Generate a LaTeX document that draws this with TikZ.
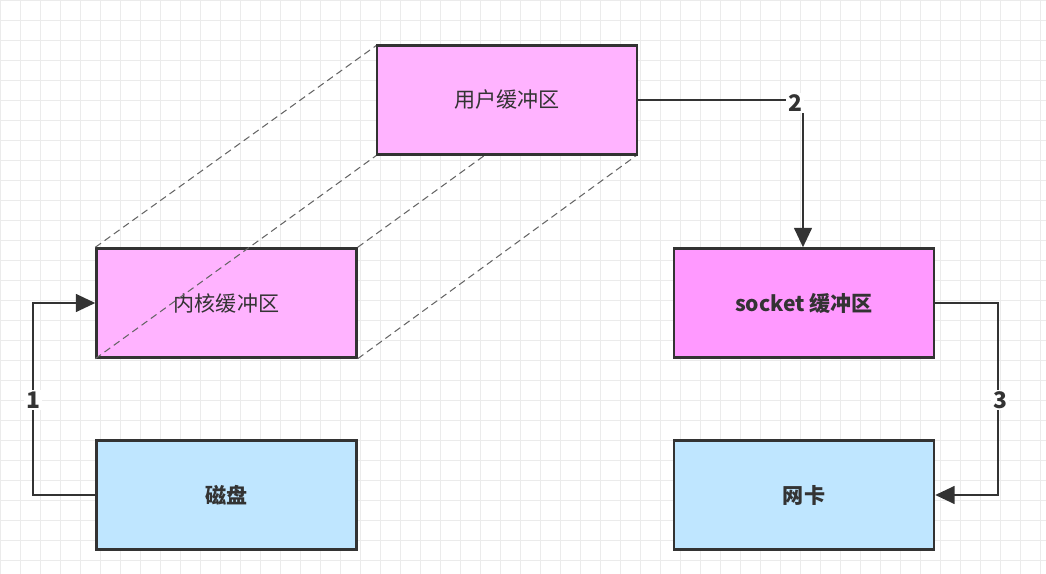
\documentclass[tikz,border=0pt]{standalone}
\usepackage{fontspec}
\setmainfont{Noto Sans CJK SC}
\usetikzlibrary{arrows.meta}
\definecolor{pinkbox}{HTML}{FFB3FF}
\definecolor{pinkdark}{HTML}{FF99FF}
\definecolor{bluebox}{HTML}{BFE6FF}
\definecolor{edge}{HTML}{333333}
\tikzset{
  buf/.style={draw=edge, line width=1.4pt, minimum width=5.2cm, minimum height=2.18cm,
    font=\fontsize{12}{14}\selectfont, text=edge},
  link/.style={draw=edge, line width=1.4pt, -{Triangle[length=11pt,width=10pt]}},
  num/.style={fill=white, font=\fontsize{13}{15}\selectfont\bfseries, text=edge, inner sep=1pt},
  ghost/.style={draw=black!60, dash pattern=on 4pt off 2.5pt, line width=0.6pt}
}
\begin{document}
\begin{tikzpicture}[x=0.02cm, y=-0.02cm]
  \useasboundingbox (0,0) rectangle (1046,574);
  % grid
  \foreach \i in {0,20,...,1040} \draw[black!8] (\i,0) -- (\i,574);
  \foreach \j in {0,20,...,570} \draw[black!8] (0,\j) -- (1046,\j);

  \node[buf, fill=pinkbox] (kern) at (226.5,303) {内核缓冲区};
  \node[buf, fill=pinkdark, font=\fontsize{12}{14}\selectfont\bfseries] (sock) at (804,303) {socket 缓冲区};
  \node[buf, fill=bluebox, font=\fontsize{12}{14}\selectfont\bfseries] (disk) at (226.5,495) {磁盘};
  \node[buf, fill=bluebox, font=\fontsize{12}{14}\selectfont\bfseries] (nic) at (804,495) {网卡};

  % projection, drawn under the user buffer
  \coordinate (unw) at (377,45);
  \coordinate (usw) at (377,155);
  \coordinate (une) at (637,45);
  \coordinate (use) at (637,155);
  \draw[ghost] (kern.north west) -- (unw);
  \draw[ghost] (kern.south west) -- (usw);
  \draw[ghost] (kern.north east) -- (une);
  \draw[ghost] (kern.south east) -- (use);
  \node[buf, fill=pinkbox] (user) at (507,100) {用户缓冲区};

  \coordinate (a1) at (33,495);
  \coordinate (a2) at (33,303);
  \draw[link] (disk.west) -- (a1) -- (a2) -- (kern.west);
  \node[num] at (33,400) {1};

  \coordinate (b1) at (803,100);
  \draw[link] (user.east) -- (b1) -- (sock.north -| b1);
  \node[num] at (795,103) {2};

  \coordinate (c1) at (998,303);
  \coordinate (c2) at (998,495);
  \draw[link] (sock.east) -- (c1) -- (c2) -- (nic.east);
  \node[num] at (1000,400) {3};
\end{tikzpicture}
\end{document}
